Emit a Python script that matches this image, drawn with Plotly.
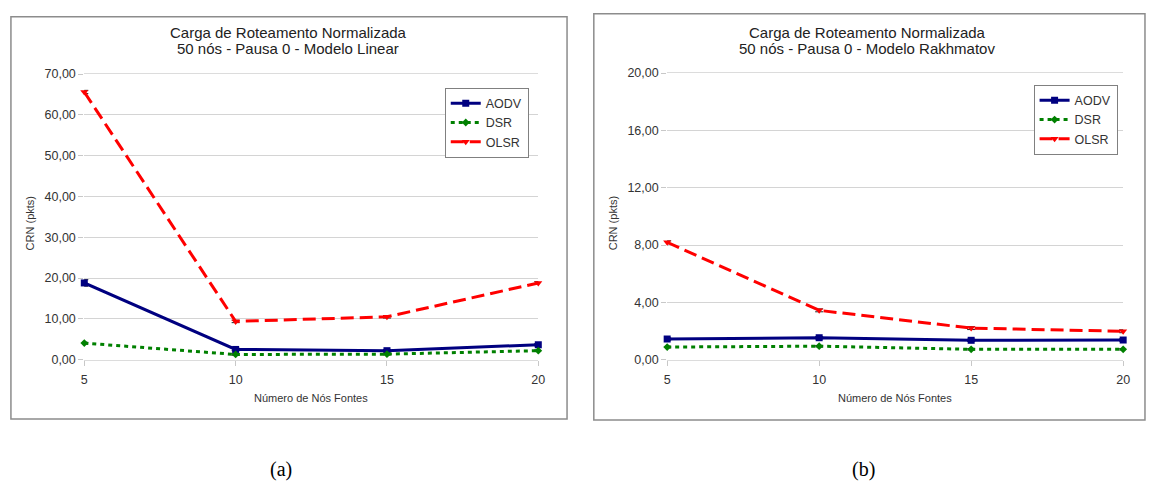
import plotly.graph_objects as go

# Number of source nodes (x axis)
fontes = [5, 10, 15, 20]

# Normalized routing load, linear battery model
linear_aodv = [18.8, 2.5, 2.2, 3.65]
linear_dsr = [4.05, 1.27, 1.35, 2.2]
linear_olsr = [65.6, 9.37, 10.5, 18.8]
linear_aodv_err = [0.8, 0.3, 0.3, 0.3]
linear_dsr_err = [0.2, 0.2, 0.2, 0.2]
linear_olsr_err = [0.4, 0.3, 0.3, 0.3]

# Normalized routing load, Rakhmatov battery model
rakh_aodv = [1.44, 1.53, 1.35, 1.37]
rakh_dsr = [0.88, 0.94, 0.72, 0.72]
rakh_olsr = [8.19, 3.44, 2.2, 1.98]
rakh_aodv_err = [0.08, 0.08, 0.08, 0.08]
rakh_dsr_err = [0.05, 0.05, 0.05, 0.05]
rakh_olsr_err = [0.1, 0.1, 0.1, 0.1]

protocolos = ["AODV", "DSR", "OLSR"]

W, H = 1149, 491


def px(x):
    return x / W


def py(y):
    return 1 - y / H


styles = {
    "AODV": dict(color="#000080", dash="solid", symbol="square", size=7),
    "DSR": dict(color="#008000", dash="4px,4px", symbol="diamond", size=6),
    "OLSR": dict(color="#ff0000", dash="13px,6px", symbol="triangle-down", size=7),
}

FONT = "Liberation Sans, Arial, sans-serif"
TXT = "#333333"

fig = go.Figure()


def add_series(name, ys, errs, xaxis, yaxis, legend):
    st = styles[name]
    fig.add_trace(go.Scatter(
        x=fontes, y=ys, name=name, mode="lines+markers",
        xaxis=xaxis, yaxis=yaxis, legend=legend, cliponaxis=False,
        line=dict(color=st["color"], width=3, dash=st["dash"]),
        marker=dict(symbol=st["symbol"], size=st["size"], color=st["color"],
                    line=dict(width=0)),
        error_y=dict(type="data", array=errs, visible=True, color="#222222",
                     thickness=1, width=4),
    ))


for name, ys, errs in zip(protocolos,
                          [linear_aodv, linear_dsr, linear_olsr],
                          [linear_aodv_err, linear_dsr_err, linear_olsr_err]):
    add_series(name, ys, errs, "x", "y", "legend")

for name, ys, errs in zip(protocolos,
                          [rakh_aodv, rakh_dsr, rakh_olsr],
                          [rakh_aodv_err, rakh_dsr_err, rakh_olsr_err]):
    add_series(name, ys, errs, "x2", "y2", "legend2")

xaxis_common = dict(
    range=[5, 20], tickvals=fontes, showgrid=False, zeroline=False,
    ticks="outside", ticklen=5, tickcolor="#c8c8c8",
    showline=True, mirror=True, linecolor="#dcdcdc", linewidth=1,
    ticklabelstandoff=3,
    tickfont=dict(family=FONT, size=12.5, color=TXT),
)
yaxis_common = dict(
    tickformat=".2f", showgrid=True, gridcolor="#d4d4d4", gridwidth=1,
    zeroline=False, ticks="outside", ticklen=5, tickcolor="#c8c8c8",
    showline=False,
    tickfont=dict(family=FONT, size=12.5, color=TXT),
)

legend_common = dict(
    bgcolor="white", bordercolor="#808080", borderwidth=1,
    font=dict(family=FONT, size=12.5, color=TXT),
    itemwidth=30, tracegroupgap=0, yanchor="top", xanchor="center",
)

annotations = []
# chart titles
for cx, sub in [(288, "50 nós - Pausa 0 - Modelo Linear"),
                (872, "50 nós - Pausa 0 - Modelo Rakhmatov")]:
    annotations.append(dict(x=px(cx), y=py(26), xref="paper", yref="paper",
                            text="Carga de Roteamento Normalizada", showarrow=False,
                            font=dict(family=FONT, size=15, color="#222222"),
                            xanchor="center", yanchor="middle"))
    annotations.append(dict(x=px(cx), y=py(43), xref="paper", yref="paper",
                            text=sub, showarrow=False,
                            font=dict(family=FONT, size=15, color="#222222"),
                            xanchor="center", yanchor="middle"))

# axis titles
for cx in (311, 900):
    annotations.append(dict(x=px(cx), y=py(402), xref="paper", yref="paper",
                            text="Número de Nós Fontes", showarrow=False,
                            font=dict(family=FONT, size=11, color=TXT),
                            xanchor="center", yanchor="middle"))
for cx in (27, 615):
    annotations.append(dict(x=px(cx), y=py(223), xref="paper", yref="paper",
                            text="CRN (pkts)", showarrow=False, textangle=-90,
                            font=dict(family=FONT, size=11, color=TXT),
                            xanchor="center", yanchor="middle"))

# panel captions
for cx, cap in [(280, "(a)"), (868, "(b)")]:
    annotations.append(dict(x=px(cx), y=py(476), xref="paper", yref="paper",
                            text=cap, showarrow=False,
                            font=dict(family="Liberation Serif, Times New Roman, serif",
                                      size=20, color="black"),
                            xanchor="center", yanchor="middle"))

shapes = [
    dict(type="rect", xref="paper", yref="paper",
         x0=px(8), x1=px(569), y0=py(424), y1=py(10),
         line=dict(color="#8c8c8c", width=1.5), fillcolor="rgba(0,0,0,0)"),
    dict(type="rect", xref="paper", yref="paper",
         x0=px(596), x1=px(1152), y0=py(425), y1=py(7),
         line=dict(color="#8c8c8c", width=1.5), fillcolor="rgba(0,0,0,0)"),
]

fig.update_layout(
    width=W, height=H, autosize=False,
    margin=dict(l=0, r=0, t=0, b=0),
    paper_bgcolor="white", plot_bgcolor="white",
    separators=",.",
    font=dict(family=FONT, color=TXT),
    xaxis=dict(domain=[px(82), px(540)], anchor="y", **xaxis_common),
    yaxis=dict(domain=[py(363), py(69)], anchor="x", range=[0, 70], dtick=10,
               **yaxis_common),
    xaxis2=dict(domain=[px(670), px(1130)], anchor="y2", **xaxis_common),
    yaxis2=dict(domain=[py(363), py(68)], anchor="x2", range=[0, 20], dtick=4,
                **yaxis_common),
    legend=dict(x=px(488), y=py(83), **legend_common),
    legend2=dict(x=px(1082), y=py(80), **legend_common),
    annotations=annotations,
    shapes=shapes,
)

fig.write_html("out.html")
